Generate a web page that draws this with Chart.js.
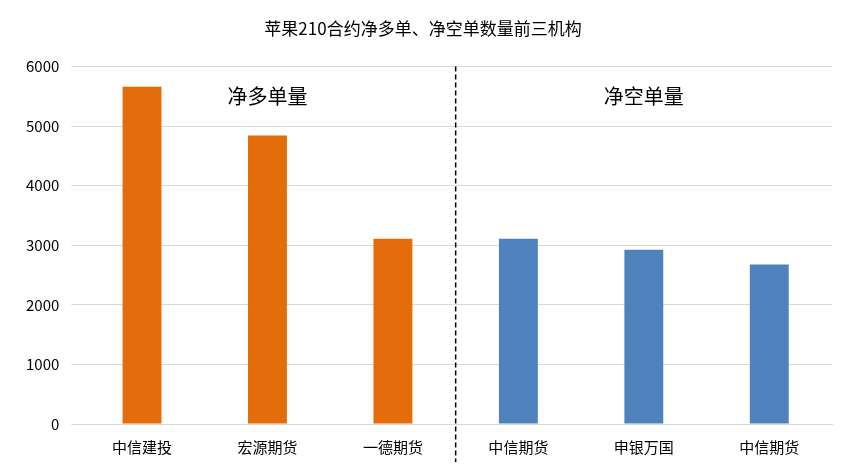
<!DOCTYPE html>
<html>
<head>
<meta charset="utf-8">
<script src="https://cdn.jsdelivr.net/npm/chart.js@4/dist/chart.umd.min.js"></script>
<style>
  body { margin: 0; background: #fff; }
  #wrap { width: 846px; height: 472px; }
</style>
</head>
<body>
<div id="wrap"><canvas id="c"></canvas></div>
<script>
const categories = ['中信建投', '宏源期货', '一德期货', '中信期货', '申银万国', '中信期货'];
const values = [5660, 4840, 3110, 3110, 2925, 2675];
const groupNames = ['净多单量', '净空单量'];
const barColors = ['#E46C0A', '#E46C0A', '#E46C0A', '#4F81BD', '#4F81BD', '#4F81BD'];
const font = "'Noto Sans CJK SC', 'Noto Sans', sans-serif";

// divider between long and short groups, plus group captions
const groupPlugin = {
  id: 'groups',
  afterDatasetsDraw(chart) {
    const { ctx, scales: { x, y }, chartArea } = chart;
    const midX = (x.getPixelForValue(2) + x.getPixelForValue(3)) / 2;
    ctx.save();
    ctx.strokeStyle = '#000';
    ctx.lineWidth = 1.5;
    ctx.setLineDash([5, 3]);
    ctx.beginPath();
    ctx.moveTo(midX, chartArea.top);
    ctx.lineTo(midX, chartArea.bottom + 38);
    ctx.stroke();
    ctx.setLineDash([]);
    ctx.fillStyle = '#000';
    ctx.font = '20px ' + font;
    ctx.textAlign = 'center';
    ctx.textBaseline = 'middle';
    const ty = y.getPixelForValue(5500);
    ctx.fillText(groupNames[0], x.getPixelForValue(1), ty);
    ctx.fillText(groupNames[1], x.getPixelForValue(4), ty);
    ctx.restore();
  }
};

new Chart(document.getElementById('c'), {
  type: 'bar',
  data: {
    labels: categories,
    datasets: [{
      data: values,
      backgroundColor: barColors,
      categoryPercentage: 1,
      barPercentage: 0.31
    }]
  },
  options: {
    responsive: true,
    maintainAspectRatio: false,
    animation: false,
    layout: { padding: { left: 14, right: 14, top: 8, bottom: 10 } },
    plugins: {
      legend: { display: false },
      tooltip: { enabled: false },
      title: {
        display: true,
        text: '苹果210合约净多单、净空单数量前三机构',
        color: '#000',
        font: { family: font, size: 17, weight: 'normal' },
        padding: { top: 10, bottom: 28 }
      }
    },
    scales: {
      x: {
        grid: { display: false },
        border: { color: '#d9d9d9' },
        ticks: { color: '#000', font: { family: font, size: 15 }, padding: 6 }
      },
      y: {
        min: 0, max: 6000,
        ticks: { stepSize: 1000, color: '#000', font: { family: font, size: 15 }, padding: 12,
          callback: v => String(v) },
        grid: { color: '#d9d9d9' },
        border: { display: false }
      }
    }
  },
  plugins: [groupPlugin]
});
</script>
</body>
</html>
